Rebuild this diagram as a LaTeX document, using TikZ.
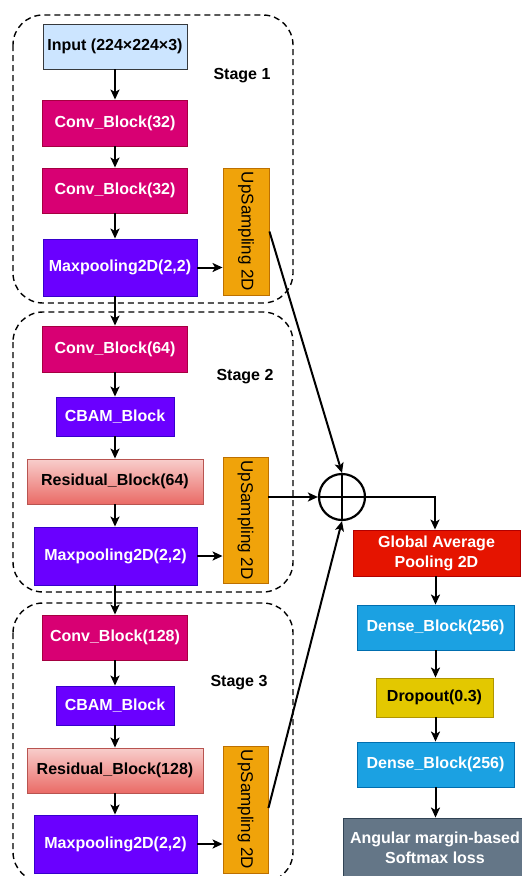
\documentclass[tikz,border=0pt]{standalone}
\usepackage{fontspec}
\setmainfont{Liberation Sans}
\usetikzlibrary{arrows.meta,calc}
\definecolor{inpF}{HTML}{CCE5FF}\definecolor{inpD}{HTML}{36393D}
\definecolor{convF}{HTML}{D80073}\definecolor{convD}{HTML}{A50040}
\definecolor{purF}{HTML}{6A00FF}\definecolor{purD}{HTML}{3700CC}
\definecolor{resT}{HTML}{F8CECC}\definecolor{resB}{HTML}{EA6B66}\definecolor{resD}{HTML}{B85450}
\definecolor{upF}{HTML}{F0A30A}\definecolor{upD}{HTML}{BD7000}
\definecolor{gapF}{HTML}{E51400}\definecolor{gapD}{HTML}{B20000}
\definecolor{denF}{HTML}{1BA1E2}\definecolor{denD}{HTML}{006EAF}
\definecolor{droF}{HTML}{E3C800}\definecolor{droD}{HTML}{B09500}
\definecolor{angF}{HTML}{647687}\definecolor{angD}{HTML}{314354}
\begin{document}
\begin{tikzpicture}[x=1pt,y=-1pt,
  blk/.style={draw, line width=0.9pt, inner sep=0pt, align=center,
    font=\fontsize{16}{20}\selectfont\bfseries},
  inp/.style={blk, fill=inpF, draw=inpD, text=black},
  conv/.style={blk, fill=convF, draw=convD, text=white},
  pur/.style={blk, fill=purF, draw=purD, text=white},
  res/.style={blk, top color=resT, bottom color=resB, draw=resD, text=black},
  up/.style={blk, fill=upF, draw=upD, text=black},
  uptxt/.style={rotate=-90, font=\fontsize{17}{20}\selectfont, inner sep=0pt},
  gapb/.style={blk, fill=gapF, draw=gapD, text=white},
  den/.style={blk, fill=denF, draw=denD, text=white},
  dro/.style={blk, fill=droF, draw=droD, text=black},
  ang/.style={blk, fill=angF, draw=angD, text=white},
  stagebox/.style={draw, dashed, dash pattern=on 6pt off 4pt, line width=1.4pt, rounded corners=30pt},
  stagelbl/.style={font=\fontsize{16}{20}\selectfont\bfseries, text=black, inner sep=0pt},
  arr/.style={line width=2pt, -{Stealth[length=10pt,width=9pt,inset=2.5pt]}},
  ln/.style={line width=2pt}
]
\useasboundingbox (0,0) rectangle (522,876);
% stage boxes
\draw[stagebox] (13,15) rectangle (293,303);
\draw[stagebox] (13,312) rectangle (293,592);
\draw[stagebox] (13,603) rectangle (293,882);
\node[stagelbl] (s1) at (242,76) {Stage 1};
\node[stagelbl] (s2) at (245,377) {Stage 2};
\node[stagelbl] (s3) at (239,683) {Stage 3};
% stage 1
\node[inp, minimum width=144pt, minimum height=45pt] (in) at (115,46.5) {Input (224×224×3)};
\node[conv, minimum width=145pt, minimum height=46pt] (c1) at (115,123) {Conv\_Block(32)};
\node[conv, minimum width=145pt, minimum height=45pt] (c2) at (115,190.5) {Conv\_Block(32)};
\node[pur, minimum width=154pt, minimum height=57pt] (m1) at (120,267.5) {Maxpooling2D(2,2)};
\node[up, minimum width=46pt, minimum height=127pt] (u1) at (246,231.5) {};
\node[uptxt] at (u1.center) {UpSampling 2D};
% stage 2
\node[conv, minimum width=145pt, minimum height=46pt] (c64) at (115,349) {Conv\_Block(64)};
\node[pur, minimum width=118pt, minimum height=39pt] (cb2) at (115,416.5) {CBAM\_Block};
\node[res, minimum width=176pt, minimum height=45pt] (r64) at (115,481.5) {Residual\_Block(64)};
\node[pur, minimum width=163pt, minimum height=58pt] (m2) at (115.5,556) {Maxpooling2D(2,2)};
\node[up, minimum width=45pt, minimum height=126pt] (u2) at (245.5,520) {};
\node[uptxt] at (u2.center) {UpSampling 2D};
% stage 3
\node[conv, minimum width=145pt, minimum height=45pt] (c128) at (115,637.5) {Conv\_Block(128)};
\node[pur, minimum width=118pt, minimum height=39pt] (cb3) at (115,705.5) {CBAM\_Block};
\node[res, minimum width=176pt, minimum height=45pt] (r128) at (115,770.5) {Residual\_Block(128)};
\node[pur, minimum width=163pt, minimum height=58pt] (m3) at (115.5,844) {Maxpooling2D(2,2)};
\node[up, minimum width=45pt, minimum height=127pt] (u3) at (245.5,809.5) {};
\node[uptxt] at (u3.center) {UpSampling 2D};
% right column
\node[circle, draw, line width=2.2pt, minimum size=46pt, inner sep=0pt] (plus) at (342,497) {};
\draw[ln] (plus.north) -- (plus.south) (plus.west) -- (plus.east);
\node[gapb, minimum width=167pt, minimum height=46pt] (gap) at (436.5,553) {Global Average\\Pooling 2D};
\node[den, minimum width=157pt, minimum height=45pt] (d1) at (435.5,627.5) {Dense\_Block(256)};
\node[dro, minimum width=117pt, minimum height=39pt] (dr) at (434.5,697.5) {Dropout(0.3)};
\node[den, minimum width=157pt, minimum height=45pt] (d2) at (435.5,764.5) {Dense\_Block(256)};
\node[ang, minimum width=184pt, minimum height=60pt] (an) at (435,848) {Angular margin-based\\Softmax loss};
% arrows stage 1
\draw[arr] (in.south) -- (in.south |- c1.north);
\draw[arr] (c1.south) -- (c1.south |- c2.north);
\draw[arr] (c2.south) -- (c2.south |- m1.north);
\draw[arr] (m1.east) -- (u1.west |- m1.east);
\draw[arr] (c2.south |- m1.south) -- (c2.south |- c64.north);
% stage 2
\draw[arr] (c64.south) -- (c64.south |- cb2.north);
\draw[arr] (cb2.south) -- (cb2.south |- r64.north);
\draw[arr] (r64.south) -- (r64.south |- m2.north);
\draw[arr] (m2.east) -- (u2.west |- m2.east);
\draw[arr] (r64.south |- m2.south) -- (r64.south |- c128.north);
% stage 3
\draw[arr] (c128.south) -- (c128.south |- cb3.north);
\draw[arr] (cb3.south) -- (cb3.south |- r128.north);
\draw[arr] (r128.south) -- (r128.south |- m3.north);
\draw[arr] (m3.east) -- (u3.west |- m3.east);
% to sum
\draw[arr] (u1.east) -- (plus.north);
\draw[arr] (u2.east |- plus.west) -- (plus.west);
\draw[arr] ($(u3.east)+(0,-1.5)$) -- (plus.south);
% right column arrows
\draw[arr] (plus.east) -| ($(gap.north)+(-1.5,0)$);
\draw[arr] (d1.north |- gap.south) -- (d1.north);
\draw[arr] (d1.south) -- (d1.south |- dr.north);
\draw[arr] (d1.south |- dr.south) -- (d2.north);
\draw[arr] (d2.south) -- (d2.south |- an.north);
\end{tikzpicture}
\end{document}
